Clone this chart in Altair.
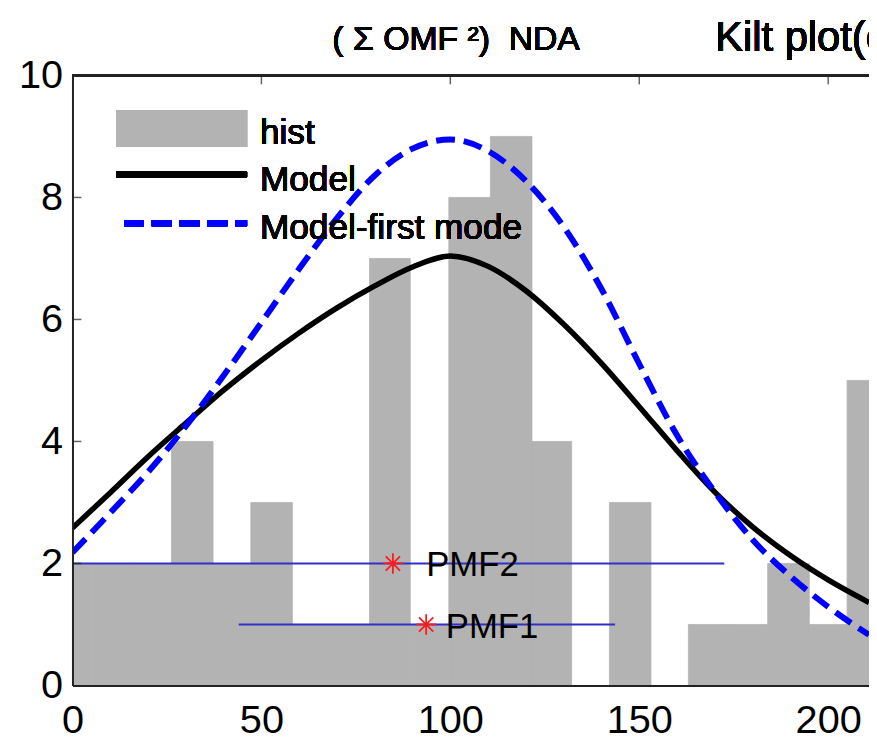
import altair as alt
import pandas as pd

FONT = "Liberation Sans"

# ---- histogram (bin edges in x units, counts) ----
bin_left = [-5.3, 5.2, 15.7, 26.2, 37.2, 47.2, 58.2, 68.2, 78.6, 89.4, 99.6,
            110.6, 121.6, 132.1, 142.1, 153.1, 163.0, 173.5, 184.0, 195.0, 205.0]
bin_right = bin_left[1:] + [215.5]
counts = [2, 2, 2, 4, 2, 3, 1, 1, 7, 1, 8, 9, 4, 0, 3, 0, 1, 1, 2, 1, 5]

# ---- model curves ----
curve_x = [0, 10, 20, 30, 40, 50, 60, 70, 80, 90, 100, 110, 120, 130, 140,
           150, 160, 170, 180, 190, 200, 210.8]
model = [2.58, 3.16, 3.75, 4.30, 4.84, 5.33, 5.78, 6.19, 6.55, 6.86, 7.04,
         6.87, 6.47, 5.92, 5.28, 4.57, 3.85, 3.17, 2.60, 2.13, 1.73, 1.36]
first_mode = [2.18, 2.83, 3.50, 4.25, 5.08, 5.95, 6.83, 7.66, 8.36, 8.80, 8.95,
              8.76, 8.27, 7.52, 6.50, 5.27, 4.10, 3.17, 2.39, 1.79, 1.29, 0.83]

# ---- PMF markers ----
pmf_name = ["PMF2", "PMF1"]
pmf_center = [84.8, 93.6]
pmf_lo = [-2.9, 44.0]
pmf_hi = [172.5, 143.6]
pmf_level = [2, 1]
pmf_label_x = [93.6, 98.8]
pmf_label_y = [1.79, 0.78]

x_ticks = [0, 50, 100, 150, 200]
y_ticks = [0, 2, 4, 6, 8, 10]

hist_df = pd.DataFrame({"lo": bin_left, "hi": bin_right, "n": counts})
curve_df = pd.DataFrame({"x": curve_x, "model": model, "first": first_mode})
pmf_df = pd.DataFrame({"name": pmf_name, "c": pmf_center, "lo": pmf_lo,
                       "hi": pmf_hi, "lvl": pmf_level,
                       "lx": pmf_label_x, "ly": pmf_label_y})
xt_df = pd.DataFrame({"t": x_ticks[1:]})
yt_df = pd.DataFrame({"t": y_ticks[1:-1]})

xs = alt.Scale(domain=[0, 210.8], nice=False, zero=False)
ys = alt.Scale(domain=[0, 10], nice=False, zero=False)

x_axis = alt.Axis(values=x_ticks, ticks=False, grid=False, title=None, format="d",
                  labelFontSize=40, labelFont=FONT, labelColor="black",
                  labelPadding=15, labelFlush=False, domainColor="#222222",
                  domainWidth=2, zindex=1)
y_axis = alt.Axis(values=y_ticks, ticks=False, grid=False, title=None, format="d",
                  labelFontSize=40, labelFont=FONT, labelColor="black",
                  labelPadding=10, labelFlush=False, domainColor="#222222",
                  domainWidth=2, zindex=1)

bars = alt.Chart(hist_df).mark_rect(color="#b3b3b3", stroke="#b3b3b3",
                                    strokeWidth=0.8, clip=True).encode(
    x=alt.X("lo:Q", scale=xs, axis=x_axis),
    x2="hi:Q",
    y=alt.Y("n:Q", scale=ys, axis=y_axis),
    y2=alt.datum(0),
)

pmf_lines = alt.Chart(pmf_df).mark_rule(color="#3030c8", strokeWidth=2, clip=True).encode(
    x=alt.X("lo:Q", scale=xs), x2="hi:Q", y=alt.Y("lvl:Q", scale=ys))

model_line = alt.Chart(curve_df).mark_line(
    color="black", strokeWidth=5.5, interpolate="monotone", clip=True).encode(
    x=alt.X("x:Q", scale=xs), y=alt.Y("model:Q", scale=ys))

first_line = alt.Chart(curve_df).mark_line(
    color="#0000ff", strokeWidth=6, strokeDash=[19, 9], interpolate="monotone",
    clip=True).encode(
    x=alt.X("x:Q", scale=xs), y=alt.Y("first:Q", scale=ys))

star = "M0,-1L0,1M-1,0L1,0M-0.7,-0.7L0.7,0.7M-0.7,0.7L0.7,-0.7"
stars = alt.Chart(pmf_df).mark_point(shape=star, size=420, color="#ff1a1a",
                                     strokeWidth=1.8, filled=False, opacity=1).encode(
    x=alt.X("c:Q", scale=xs), y=alt.Y("lvl:Q", scale=ys))

pmf_text = alt.Chart(pmf_df).mark_text(
    align="left", baseline="alphabetic", font=FONT, fontSize=35, color="black").encode(
    x=alt.X("lx:Q", scale=xs), y=alt.Y("ly:Q", scale=ys), text="name:N")

# frame: top spine and inward ticks
top_spine = alt.Chart(hist_df).mark_rule(color="#222222", strokeWidth=2).encode(
    y=alt.datum(10, scale=ys))
top_ticks = alt.Chart(xt_df).mark_tick(orient="vertical", size=9, thickness=1.5,
                                       yOffset=4.5, color="#222222").encode(
    x=alt.X("t:Q", scale=xs), y=alt.datum(10, scale=ys))
left_ticks = alt.Chart(yt_df).mark_tick(orient="horizontal", size=9, thickness=1.5,
                                        xOffset=4.5, color="#222222").encode(
    y=alt.Y("t:Q", scale=ys), x=alt.datum(0, scale=xs))

# legend (top-left, no box)
leg_hist = alt.Chart(hist_df).mark_rect(color="#b3b3b3").encode(
    x=alt.value(44), x2=alt.value(176), y=alt.value(35), y2=alt.value(72))
leg_model = alt.Chart(hist_df).mark_rule(color="black", strokeWidth=6).encode(
    x=alt.value(44), x2=alt.value(176), y=alt.value(100))
leg_first = alt.Chart(hist_df).mark_rule(color="#0000ff", strokeWidth=6,
                                         strokeDash=[20, 8]).encode(
    x=alt.value(52), x2=alt.value(176), y=alt.value(149))
leg_t1 = alt.Chart(hist_df).mark_text(text="hist", align="left", baseline="alphabetic",
                                      font=FONT, fontSize=35.5, color="black").encode(
    x=alt.value(189), y=alt.value(69))
leg_t2 = alt.Chart(hist_df).mark_text(text="Model", align="left", baseline="alphabetic",
                                      font=FONT, fontSize=35.5, color="black").encode(
    x=alt.value(189), y=alt.value(117))
leg_t3 = alt.Chart(hist_df).mark_text(text="Model-first mode", align="left",
                                      baseline="alphabetic", font=FONT, fontSize=35.5,
                                      color="black").encode(
    x=alt.value(189), y=alt.value(165))

# titles
title1 = alt.Chart(hist_df).mark_text(
    text="(\u00a0\u03a3\u00a0OMF\u00a0\u00b2)\u00a0\u00a0NDA", align="left",
    baseline="alphabetic", font=FONT, fontSize=34, color="black").encode(
    x=alt.value(262), y=alt.value(-26))
title2 = alt.Chart(hist_df).mark_text(text="Kilt plot(c", align="left",
                                      baseline="alphabetic", font=FONT, fontSize=42,
                                      color="black").encode(
    x=alt.value(648), y=alt.value(-25))

chart = alt.layer(
    bars, pmf_lines, model_line, first_line, stars, pmf_text,
    top_spine, top_ticks, left_ticks,
    leg_hist, leg_model, leg_first, leg_t1, leg_t2, leg_t3, title1, title2,
).properties(
    width=803, height=615,
    autosize=alt.AutoSizeParams(type="none"),
    padding={"left": 65, "top": 65, "right": 0, "bottom": 53},
).configure_view(stroke=None)

chart.save("out.html", embed_options={"renderer": "svg", "actions": False})
